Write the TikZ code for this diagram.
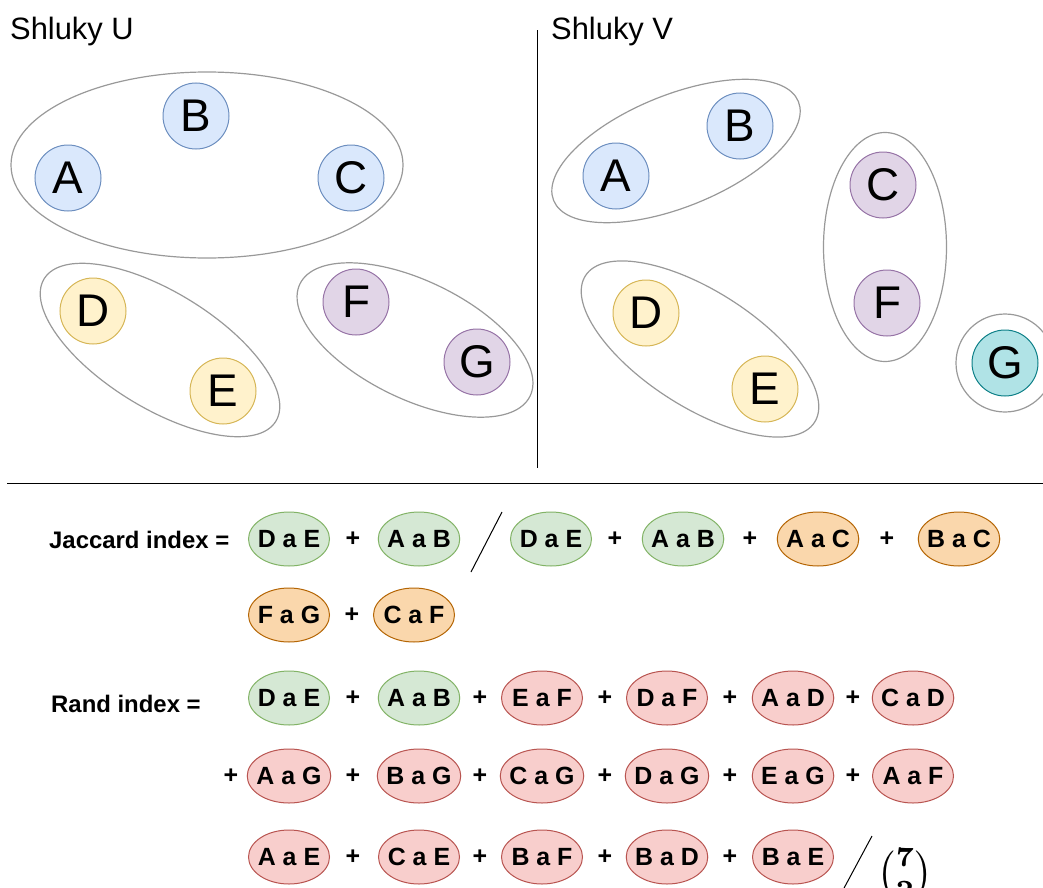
\documentclass[tikz,border=0pt]{standalone}
\usepackage{fontspec}
\setmainfont{Liberation Sans}
\usepackage{amsmath}
\usetikzlibrary{shapes,positioning,calc}

\definecolor{blueF}{HTML}{DAE8FC}\definecolor{blueD}{HTML}{6C8EBF}
\definecolor{yelF}{HTML}{FFF2CC}\definecolor{yelD}{HTML}{D6B656}
\definecolor{purF}{HTML}{E1D5E7}\definecolor{purD}{HTML}{9673A6}
\definecolor{tealF}{HTML}{B0E3E6}\definecolor{tealD}{HTML}{0E8088}
\definecolor{grnF}{HTML}{D5E8D4}\definecolor{grnD}{HTML}{82B366}
\definecolor{orF}{HTML}{FAD7AC}\definecolor{orD}{HTML}{B46504}
\definecolor{redF}{HTML}{F8CECC}\definecolor{redD}{HTML}{B85450}
\definecolor{clusterC}{HTML}{999999}

\begin{document}
\begin{tikzpicture}[x=1bp,y=-1bp,
  pt/.style={circle,draw,line width=1bp,minimum size=66bp,inner sep=0pt,font=\fontsize{46}{46}\selectfont},
  cluster/.style={ellipse,draw=clusterC,line width=1.2bp,inner sep=0pt},
  pair/.style={ellipse,draw,line width=1bp,minimum width=81bp,minimum height=54bp,inner xsep=-3bp,inner ysep=0pt,font=\bfseries\fontsize{25}{25}\selectfont},
  plus/.style={inner sep=0pt,font=\bfseries\fontsize{25}{25}\selectfont},
  lbl/.style={anchor=base west,inner sep=0pt,font=\bfseries\fontsize{24}{24}\selectfont},
  title/.style={anchor=base west,inner sep=0pt,font=\fontsize{31}{31}\selectfont},
  blu/.style={fill=blueF,draw=blueD}, yel/.style={fill=yelF,draw=yelD},
  pur/.style={fill=purF,draw=purD}, tea/.style={fill=tealF,draw=tealD},
  grn/.style={fill=grnF,draw=grnD}, ora/.style={fill=orF,draw=orD},
  rd/.style={fill=redF,draw=redD}]
\useasboundingbox (0,0) rectangle (1043,888);

% Shluky U
\node[title] (tU) at (10,39) {Shluky U};
\node[cluster,minimum width=392bp,minimum height=186bp] (uABC) at (207,165) {};
\node[cluster,minimum width=272bp,minimum height=116bp,rotate=-31.6] (uDE) at (160,350) {};
\node[cluster,minimum width=256bp,minimum height=118bp,rotate=-26] (uFG) at (415,340) {};
\node[pt,blu] (uA) at (68,178) {A};
\node[pt,blu] (uB) at (196,116) {B};
\node[pt,blu] (uC) at (351,178) {C};
\node[pt,yel] (uD) at (93,311) {D};
\node[pt,yel] (uE) at (223,391) {E};
\node[pt,pur] (uF) at (356,302) {F};
\node[pt,pur] (uG) at (477,362) {G};

% Shluky V
\node[title] (tV) at (551,39) {Shluky V};
\node[cluster,minimum width=264bp,minimum height=112bp,rotate=22] (vAB) at (676,151) {};
\node[cluster,minimum width=123bp,minimum height=229bp] (vCF) at (885,247) {};
\node[cluster,minimum width=272bp,minimum height=116bp,rotate=-32.6] (vDE) at (700,349) {};
\node[cluster,circle,minimum size=98bp] (vGG) at (1005,363) {};
\node[pt,blu] (vA) at (616,176) {A};
\node[pt,blu] (vB) at (740,126) {B};
\node[pt,pur] (vC) at (883,185) {C};
\node[pt,pur] (vF) at (887,303) {F};
\node[pt,yel] (vD) at (646,313) {D};
\node[pt,yel] (vE) at (765,389) {E};
\node[pt,tea] (vG) at (1005,363) {G};

\path (537,30) coordinate (d1) (537,468) coordinate (d2)
      (7,483) coordinate (h1) (1043,483) coordinate (h2);
\draw[line width=1bp] (d1) -- (d2);
\draw[line width=1bp] (h1) -- (h2);

% Jaccard
\node[lbl] (jac) at (49,548) {Jaccard index =};
\node[pair,grn] (jDE) at (289,539) {D a E};
\node[plus] (jp1) at (353,539) {+};
\node[pair,grn] (jAB) at (419,539) {A a B};
\path (471,572) coordinate (js1) (502,512) coordinate (js2);
\draw[line width=1bp] (js1) -- (js2);
\node[pair,grn] (jDE2) at (551,539) {D a E};
\node[plus] (jp2) at (615,539) {+};
\node[pair,grn] (jAB2) at (683,539) {A a B};
\node[plus] (jp3) at (750,539) {+};
\node[pair,ora] (jAC) at (818,539) {A a C};
\node[plus] (jp4) at (887,539) {+};
\node[pair,ora] (jBC) at (959,539) {B a C};
\node[pair,ora] (jFG) at (289,615) {F a G};
\node[plus] (jp5) at (352,615) {+};
\node[pair,ora] (jCF) at (414,615) {C a F};

% Rand
\node[lbl] (rand) at (51,712) {Rand index =};
\node[pair,grn] (rDE) at (289,698) {D a E};
\node[plus] (rp1) at (353,698) {+};
\node[pair,grn] (rAB) at (419,698) {A a B};
\node[plus] (rp2) at (480,698) {+};
\node[pair,rd] (rEF) at (542,698) {E a F};
\node[plus] (rp3) at (605,698) {+};
\node[pair,rd] (rDF) at (667,698) {D a F};
\node[plus] (rp4) at (730,698) {+};
\node[pair,rd] (rAD) at (793,698) {A a D};
\node[plus] (rp5) at (853,698) {+};
\node[pair,rd] (rCD) at (913,698) {C a D};

\node[plus] (rp6) at (231,776) {+};
\node[pair,rd] (rAG) at (289,776) {A a G};
\node[plus] (rp7) at (353,776) {+};
\node[pair,rd] (rBG) at (419,776) {B a G};
\node[plus] (rp8) at (480,776) {+};
\node[pair,rd] (rCG) at (542,776) {C a G};
\node[plus] (rp9) at (605,776) {+};
\node[pair,rd] (rDG) at (667,776) {D a G};
\node[plus] (rp10) at (730,776) {+};
\node[pair,rd] (rEG) at (793,776) {E a G};
\node[plus] (rp11) at (853,776) {+};
\node[pair,rd] (rAF) at (913,776) {A a F};

\node[pair,rd] (rAE) at (289,857) {A a E};
\node[plus] (rp12) at (353,857) {+};
\node[pair,rd] (rCE) at (419,857) {C a E};
\node[plus] (rp13) at (480,857) {+};
\node[pair,rd] (rBF) at (542,857) {B a F};
\node[plus] (rp14) at (605,857) {+};
\node[pair,rd] (rBD) at (667,857) {B a D};
\node[plus] (rp15) at (730,857) {+};
\node[pair,rd] (rBE) at (793,857) {B a E};
\path (843,890) coordinate (rs1) (872,836) coordinate (rs2);
\draw[line width=1bp] (rs1) -- (rs2);
\node[inner sep=0pt] (binom) at (905,874) {\scalebox{4}{\boldmath$\binom{7}{2}$}};
\end{tikzpicture}
\end{document}
